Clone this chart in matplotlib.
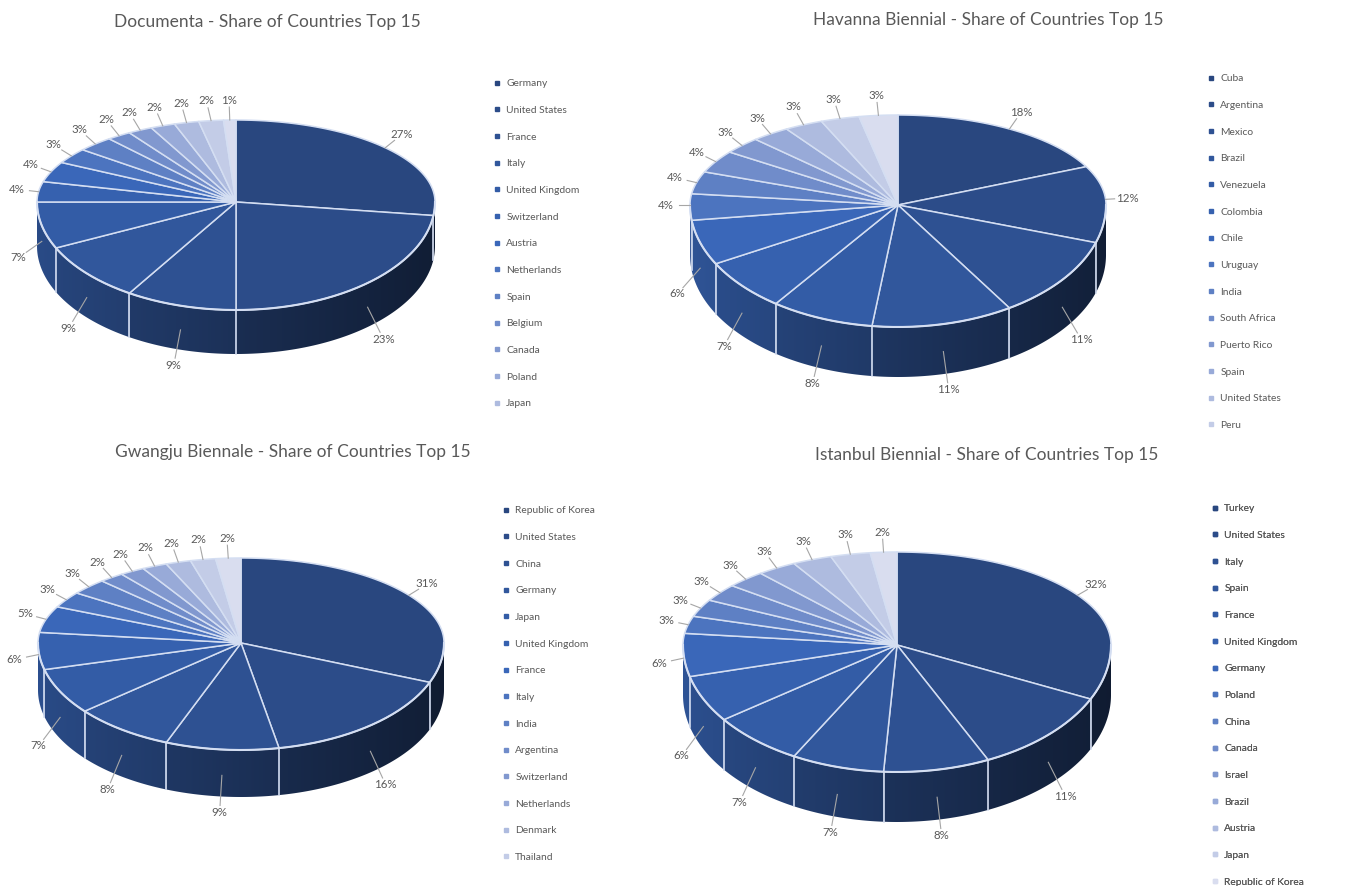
import numpy as np
import matplotlib
matplotlib.use("Agg")
import matplotlib.pyplot as plt
from matplotlib.patches import Polygon
from matplotlib.lines import Line2D
from matplotlib.colors import LinearSegmentedColormap, to_rgb

# ---------------- data ----------------
documenta_title = "Documenta - Share of Countries Top 15"
documenta_countries = ["Germany", "United States", "France", "Italy", "United Kingdom",
                       "Switzerland", "Austria", "Netherlands", "Spain", "Belgium",
                       "Canada", "Poland", "Japan"]
documenta_shares = [27, 23, 9, 9, 7, 4, 4, 3, 3, 2, 2, 2, 2, 2, 1]

havanna_title = "Havanna Biennial - Share of Countries Top 15"
havanna_countries = ["Cuba", "Argentina", "Mexico", "Brazil", "Venezuela", "Colombia",
                     "Chile", "Uruguay", "India", "South Africa", "Puerto Rico", "Spain",
                     "United States", "Peru"]
havanna_shares = [18, 12, 11, 11, 8, 7, 6, 4, 4, 4, 3, 3, 3, 3, 3]

gwangju_title = "Gwangju Biennale - Share of Countries Top 15"
gwangju_countries = ["Republic of Korea", "United States", "China", "Germany", "Japan",
                     "United Kingdom", "France", "Italy", "India", "Argentina",
                     "Switzerland", "Netherlands", "Denmark", "Thailand"]
gwangju_shares = [31, 16, 9, 8, 7, 6, 5, 3, 3, 2, 2, 2, 2, 2, 2]

istanbul_title = "Istanbul Biennial - Share of Countries Top 15"
istanbul_countries = ["Turkey", "United States", "Italy", "Spain", "France",
                      "United Kingdom", "Germany", "Poland", "China", "Canada", "Israel",
                      "Brazil", "Austria", "Japan", "Republic of Korea"]
istanbul_shares = [32, 11, 8, 7, 7, 6, 6, 3, 3, 3, 3, 3, 3, 3, 2]

# ---------------- style / layout ----------------
W, H, DPI = 1346, 886, 100
FONT = "Lato"
TEXT_COLOR = "#595959"
EDGE = "#d4def2"
cmap = LinearSegmentedColormap.from_list(
    "mono", [(0.0, "#29477f"), (0.42, "#3866b8"), (0.72, "#8399d0"), (1.0, "#d9ddef")])

panels = [
    dict(title=documenta_title, names=documenta_countries, shares=documenta_shares,
         cx=236, cy=202, rx=199, ryb=82, ryf=108, depth=44,
         title_xy=(267, 22), legend_xy=(494, 79)),
    dict(title=havanna_title, names=havanna_countries, shares=havanna_shares,
         cx=898, cy=205, rx=208, ryb=90, ryf=122, depth=50,
         title_xy=(988, 20), legend_xy=(1208, 74)),
    dict(title=gwangju_title, names=gwangju_countries, shares=gwangju_shares,
         cx=241, cy=643, rx=203, ryb=85, ryf=107, depth=47,
         title_xy=(293, 452), legend_xy=(503, 506)),
    dict(title=istanbul_title, names=istanbul_countries, shares=istanbul_shares,
         cx=897, cy=645, rx=214, ryb=93, ryf=127, depth=50,
         title_xy=(987, 455), legend_xy=(1212, 504)),
]

fig = plt.figure(figsize=(W / DPI, H / DPI), dpi=DPI)
ax = fig.add_axes([0, 0, 1, 1])


def rim(p, t):
    tr = np.radians(t)
    s = np.sin(tr)
    ry = np.where(s > 0, p["ryb"], p["ryf"])
    return p["cx"] + p["rx"] * np.cos(tr), p["cy"] - ry * s


def draw_panel(p):
    shares = np.asarray(p["shares"], float)
    n = len(shares)
    colors = [cmap(i / (n - 1)) for i in range(n)]
    cum = np.concatenate([[0], np.cumsum(shares)])
    total = cum[-1]
    starts = 90 - 360 * cum[:-1] / total
    ends = 90 - 360 * cum[1:] / total
    cx, cy, rx, depth = p["cx"], p["cy"], p["rx"], p["depth"]

    # side walls (front half only), shaded with a horizontal gradient
    xg = np.linspace(cx - rx, cx + rx, 400)
    cosg = (xg - cx) / rx
    shade = 0.6 - 0.21 * cosg
    for i, (a, b) in enumerate(zip(starts, ends)):
        lo, hi = max(b, -180), min(a, 0)
        if hi <= lo:
            continue
        ts = np.linspace(hi, lo, max(3, int((hi - lo) * 2) + 2))
        xs, ys = rim(p, ts)
        pts = np.column_stack([np.r_[xs, xs[::-1]], np.r_[ys, ys[::-1] + depth]])
        poly = Polygon(pts, closed=True, fc="none", ec="none", zorder=1)
        ax.add_patch(poly)
        base = np.array(to_rgb(colors[i]))
        img = np.clip(shade[None, :, None] * base[None, None, :], 0, 1)
        im = ax.imshow(img, extent=[cx - rx, cx + rx, cy + p["ryf"] + depth + 2, cy - 2],
                       aspect="auto", interpolation="bilinear", zorder=1)
        im.set_clip_path(poly)
    # vertical boundary lines on side
    for t in ends[:-1]:
        if -180 < t < 0:
            x, y = rim(p, t)
            ax.plot([x, x], [y, y + depth], color=EDGE, lw=1.2, zorder=1.5)

    # top faces
    for i, (a, b) in enumerate(zip(starts, ends)):
        ts = np.linspace(a, b, max(3, int(abs(a - b)) + 2))
        xs, ys = rim(p, ts)
        pts = np.column_stack([np.r_[cx, xs], np.r_[cy, ys]])
        ax.add_patch(Polygon(pts, closed=True, fc=colors[i], ec=EDGE, lw=1.1,
                             joinstyle="round", zorder=2))
    # front rim highlight
    ts = np.linspace(0, -180, 200)
    xs, ys = rim(p, ts)
    ax.plot(xs, ys, color=EDGE, lw=1.5, zorder=3)

    # data labels
    mids = (starts + ends) / 2

    def label_pos(t):
        tr = np.radians(t)
        c, s = np.cos(tr), np.sin(tr)
        if s >= 0:
            return cx + (rx + 22) * c, cy - (p["ryb"] + 20) * s
        frac = min(1.0, -s * 3)
        return cx + (rx + 24) * c, cy - (p["ryf"] + 16) * s + depth * frac

    placed = {}
    for i in range(n - 1, -1, -1):
        t = mids[i]
        lx, ly = label_pos(t)
        if i + 1 in placed:
            px, py = placed[i + 1]
            step = 0
            while np.hypot(lx - px, ly - py) < 22 and step < 60:
                t += 0.5
                step += 1
                lx, ly = label_pos(t)
        placed[i] = (lx, ly)
        tr = np.radians(mids[i])
        axx, ayy = rim(p, mids[i])
        if np.sin(tr) < 0:
            ayy = ayy + depth * min(1.0, -np.sin(tr) * 3) * 0.55
        dx, dy = axx - lx, ayy - ly
        dist = np.hypot(dx, dy)
        r = 1.0 / np.sqrt((dx / dist / 13) ** 2 + (dy / dist / 7) ** 2)
        if dist - r > 3:
            ex, ey = lx + dx / dist * r, ly + dy / dist * r
            ax.plot([axx, ex], [ayy, ey], color="#a6a6a6", lw=0.8, zorder=4)
        ax.text(lx, ly, f"{int(round(shares[i]))}%", ha="center", va="center",
                fontsize=8.3, color=TEXT_COLOR, family=FONT, zorder=5)

    # title
    ax.text(*p["title_xy"], p["title"], ha="center", va="center", fontsize=12.5,
            color=TEXT_COLOR, family=FONT)

    # legend
    handles = [Line2D([], [], marker="s", linestyle="", markersize=3.0,
                      markerfacecolor=colors[i], markeredgecolor=colors[i])
               for i in range(len(p["names"]))]
    leg = ax.legend(handles, p["names"], loc="upper left", bbox_to_anchor=p["legend_xy"],
                    bbox_transform=ax.transData, frameon=False,
                    prop={"family": FONT, "size": 7.4}, labelspacing=1.70,
                    handlelength=0.5, handletextpad=0.7, borderpad=0, borderaxespad=0)
    for txt in leg.get_texts():
        txt.set_color(TEXT_COLOR)
    ax.add_artist(leg)


for p in panels:
    draw_panel(p)

ax.set_xlim(0, W)
ax.set_ylim(H, 0)
ax.axis("off")

fig.savefig("out.png", dpi=DPI, facecolor="white")
